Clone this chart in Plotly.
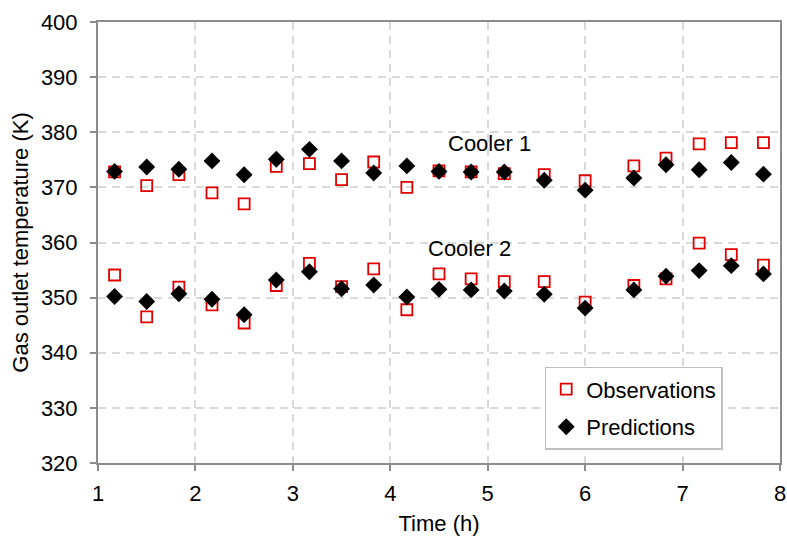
import plotly.graph_objects as go

time_h = [1.17, 1.5, 1.83, 2.17, 2.5, 2.83, 3.17, 3.5, 3.83, 4.17,
          4.5, 4.83, 5.17, 5.58, 6.0, 6.5, 6.83, 7.17, 7.5, 7.83]

cooler1_obs = [372.8, 370.3, 372.3, 369.0, 367.0, 373.8, 374.3, 371.4, 374.6, 370.0,
               373.0, 372.8, 372.5, 372.3, 371.2, 373.9, 375.3, 377.9, 378.1, 378.1]
cooler1_pred = [372.9, 373.7, 373.3, 374.8, 372.3, 375.1, 376.9, 374.8, 372.6, 373.9,
                372.9, 372.8, 372.8, 371.3, 369.5, 371.7, 374.1, 373.2, 374.5, 372.4]
cooler2_obs = [354.1, 346.5, 351.9, 348.7, 345.4, 352.2, 356.2, 352.0, 355.2, 347.8,
               354.3, 353.4, 352.9, 352.9, 349.2, 352.2, 353.4, 359.9, 357.8, 355.9]
cooler2_pred = [350.2, 349.3, 350.7, 349.7, 346.9, 353.2, 354.7, 351.6, 352.3, 350.1,
                351.5, 351.4, 351.2, 350.6, 348.1, 351.4, 353.9, 354.9, 355.8, 354.3]

x_ticks = [1, 2, 3, 4, 5, 6, 7, 8]
y_ticks = [320, 330, 340, 350, 360, 370, 380, 390, 400]

FONT = "Liberation Sans, Arial, sans-serif"
FS = 22
obs_marker = dict(symbol="square-open", size=11, color="#e00000", line=dict(width=1.8, color="#e00000"))
pred_marker = dict(symbol="diamond", size=13, color="black")

fig = go.Figure()
fig.add_trace(go.Scatter(x=time_h + time_h, y=cooler1_obs + cooler2_obs, mode="markers",
                         marker=obs_marker, name="Observations", legendgroup="obs"))
fig.add_trace(go.Scatter(x=time_h + time_h, y=cooler1_pred + cooler2_pred, mode="markers",
                         marker=pred_marker, name="Predictions", legendgroup="pred"))

fig.add_annotation(x=4.57, y=377.9, text="Cooler 1", showarrow=False, xanchor="left",
                   yanchor="middle", font=dict(family=FONT, size=FS, color="black"))
fig.add_annotation(x=4.37, y=359.0, text="Cooler 2", showarrow=False, xanchor="left",
                   yanchor="middle", font=dict(family=FONT, size=FS, color="black"))

axis_common = dict(showline=True, linecolor="#8c8c8c", linewidth=2, mirror=True,
                   showgrid=True, gridcolor="#d9d9d9", griddash="8px,6px", gridwidth=1.5,
                   ticks="outside", ticklen=6, tickwidth=1.5, tickcolor="#8c8c8c",
                   tickfont=dict(family=FONT, size=FS, color="black"), zeroline=False,
                   automargin=False)

fig.update_xaxes(range=[1, 8], tickvals=x_ticks, ticklabelstandoff=4,
                 title=dict(text="Time (h)", font=dict(family=FONT, size=FS, color="black"), standoff=10),
                 **axis_common)
fig.update_yaxes(range=[320, 400], tickvals=y_ticks, ticklabelstandoff=8,
                 title=dict(text="Gas outlet temperature (K)", font=dict(family=FONT, size=FS, color="black"), standoff=6),
                 **axis_common)

fig.update_layout(
    width=787, height=536,
    margin=dict(l=98, r=7, t=22, b=73, autoexpand=False),
    plot_bgcolor="white", paper_bgcolor="white",
    font=dict(family=FONT, size=FS, color="black"),
    legend=dict(x=0.655, y=0.218, xanchor="left", yanchor="top",
                bordercolor="#bfbfbf", borderwidth=1.5, bgcolor="white",
                font=dict(family=FONT, size=FS, color="black"),
                itemwidth=30, traceorder="grouped", tracegroupgap=6),
    showlegend=True,
)

fig.write_html("out.html", config={"displayModeBar": False},
               post_script="document.body.style.margin='0';document.body.style.overflow='hidden';")
